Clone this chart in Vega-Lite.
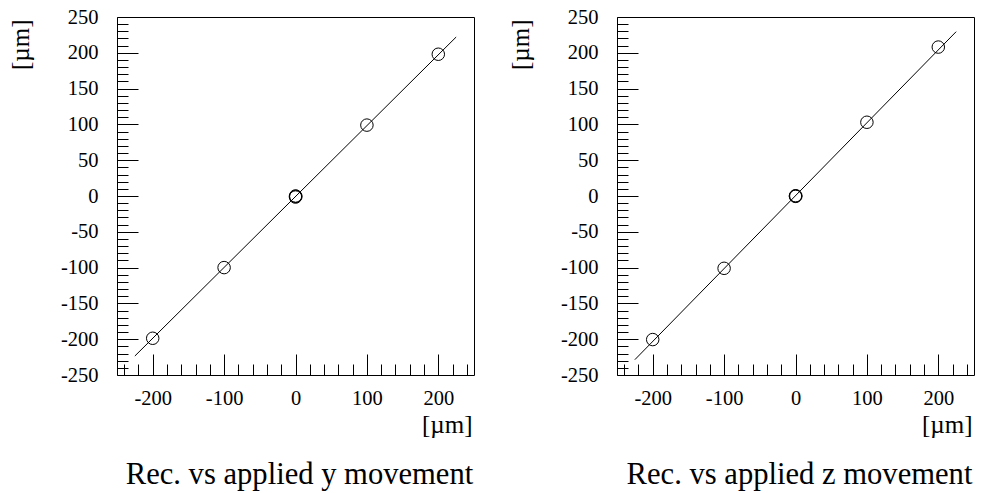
{
  "$schema": "https://vega.github.io/schema/vega-lite/v6.json",
  "background": "white",
  "padding": {"left": 7, "top": 6, "right": 0, "bottom": 0},
  "spacing": 32,
  "config": {
    "view": {"stroke": "black", "strokeWidth": 1},
    "font": "Liberation Serif",
    "style": {
      "guide-label": {"font": "Liberation Serif", "fontSize": 20.5, "fill": "black"},
      "guide-title": {"font": "Liberation Serif", "fontSize": 25, "fontWeight": "normal", "fill": "black"}
    },
    "axis": {
      "grid": false, "domain": false, "tickColor": "black", "tickWidth": 1,
      "labelFont": "Liberation Serif", "labelFontSize": 20.5, "labelColor": "black",
      "titleFont": "Liberation Serif", "titleFontSize": 25, "titleFontWeight": "normal", "titleColor": "black",
      "labelOverlap": false, "labelFlush": false, "labelBound": false,
      "encode": {
        "labels": {"update": {"font": {"value": "Liberation Serif"}, "fontSize": {"value": 20.5}, "fill": {"value": "black"}}},
        "title": {"update": {"font": {"value": "Liberation Serif"}, "fontSize": {"value": 25}, "fontWeight": {"value": "normal"}}}
      }
    },
    "title": {"font": "Liberation Serif", "fontSize": 30.6, "fontWeight": "normal", "color": "black", "orient": "bottom", "anchor": "middle", "frame": "group", "baseline": "top", "offset": 22, "dx": 4}
  },
  "datasets": {
    "fitY": [{"applied": -225, "rec": -223.5}, {"applied": 225, "rec": 222}],
    "ptsY": [
      {"applied": -200, "rec": -198.7}, {"applied": -100, "rec": -100}, {"applied": 0, "rec": -1.5},
      {"applied": 0, "rec": 0}, {"applied": 0.5, "rec": -0.5}, {"applied": 100, "rec": 99}, {"applied": 200, "rec": 198}
    ],
    "fitZ": [{"applied": -225, "rec": -228.6}, {"applied": 225, "rec": 229.5}],
    "ptsZ": [
      {"applied": -200, "rec": -200.5}, {"applied": -100, "rec": -101}, {"applied": 0, "rec": -0.5},
      {"applied": 0, "rec": 0.3}, {"applied": 0.5, "rec": 0}, {"applied": 100, "rec": 103}, {"applied": 200, "rec": 208}
    ]
  },
  "hconcat": [
    {
      "width": 357, "height": 358,
      "title": {"text": "Rec. vs applied y movement"},
      "encoding": {
        "x": {"field": "applied", "type": "quantitative",
          "scale": {"domain": [-250, 250], "nice": false, "zero": false},
          "axis": {"values": [-240,-220,-200,-180,-160,-140,-120,-100,-80,-60,-40,-20,0,20,40,60,80,100,120,140,160,180,200,220,240],
            "labelExpr": "datum.value % 100 === 0 ? '' + datum.value : ''",
            "labelFont": "Liberation Serif", "titleFont": "Liberation Serif",
            "tickSize": {"condition": {"test": "datum.value % 100 === 0", "value": -21}, "value": -11},
            "labelPadding": 34.8, "labelBaseline": "top",
            "title": "[µm]", "titleX": 355, "titleY": 57.6, "titleAlign": "right", "titleBaseline": "alphabetic"}},
        "y": {"field": "rec", "type": "quantitative",
          "scale": {"domain": [-250, 250], "nice": false, "zero": false},
          "axis": {"values": [-250,-240,-230,-220,-210,-200,-190,-180,-170,-160,-150,-140,-130,-120,-110,-100,-90,-80,-70,-60,-50,-40,-30,-20,-10,0,10,20,30,40,50,60,70,80,90,100,110,120,130,140,150,160,170,180,190,200,210,220,230,240,250],
            "labelExpr": "datum.value % 50 === 0 ? '' + datum.value : ''",
            "labelFont": "Liberation Serif", "titleFont": "Liberation Serif",
            "tickSize": {"condition": {"test": "datum.value % 50 === 0", "value": -21}, "value": -11},
            "labelPadding": 40,
            "title": "[µm]", "titleX": -97, "titleY": 2, "titleAngle": 270, "titleAlign": "right", "titleBaseline": "middle"}}
      },
      "layer": [
        {"data": {"name": "fitY"}, "mark": {"type": "line", "color": "black", "strokeWidth": 1}},
        {"data": {"name": "ptsY"}, "mark": {"type": "point", "shape": "circle", "filled": false, "color": "black", "size": 156, "strokeWidth": 1, "opacity": 1}}
      ]
    },
    {
      "width": 357, "height": 358,
      "title": {"text": "Rec. vs applied z movement"},
      "encoding": {
        "x": {"field": "applied", "type": "quantitative",
          "scale": {"domain": [-250, 250], "nice": false, "zero": false},
          "axis": {"values": [-240,-220,-200,-180,-160,-140,-120,-100,-80,-60,-40,-20,0,20,40,60,80,100,120,140,160,180,200,220,240],
            "labelExpr": "datum.value % 100 === 0 ? '' + datum.value : ''",
            "labelFont": "Liberation Serif", "titleFont": "Liberation Serif",
            "tickSize": {"condition": {"test": "datum.value % 100 === 0", "value": -21}, "value": -11},
            "labelPadding": 34.8, "labelBaseline": "top",
            "title": "[µm]", "titleX": 355, "titleY": 57.6, "titleAlign": "right", "titleBaseline": "alphabetic"}},
        "y": {"field": "rec", "type": "quantitative",
          "scale": {"domain": [-250, 250], "nice": false, "zero": false},
          "axis": {"values": [-250,-240,-230,-220,-210,-200,-190,-180,-170,-160,-150,-140,-130,-120,-110,-100,-90,-80,-70,-60,-50,-40,-30,-20,-10,0,10,20,30,40,50,60,70,80,90,100,110,120,130,140,150,160,170,180,190,200,210,220,230,240,250],
            "labelExpr": "datum.value % 50 === 0 ? '' + datum.value : ''",
            "labelFont": "Liberation Serif", "titleFont": "Liberation Serif",
            "tickSize": {"condition": {"test": "datum.value % 50 === 0", "value": -21}, "value": -11},
            "labelPadding": 40,
            "title": "[µm]", "titleX": -97, "titleY": 2, "titleAngle": 270, "titleAlign": "right", "titleBaseline": "middle"}}
      },
      "layer": [
        {"data": {"name": "fitZ"}, "mark": {"type": "line", "color": "black", "strokeWidth": 1}},
        {"data": {"name": "ptsZ"}, "mark": {"type": "point", "shape": "circle", "filled": false, "color": "black", "size": 156, "strokeWidth": 1, "opacity": 1}}
      ]
    }
  ]
}
